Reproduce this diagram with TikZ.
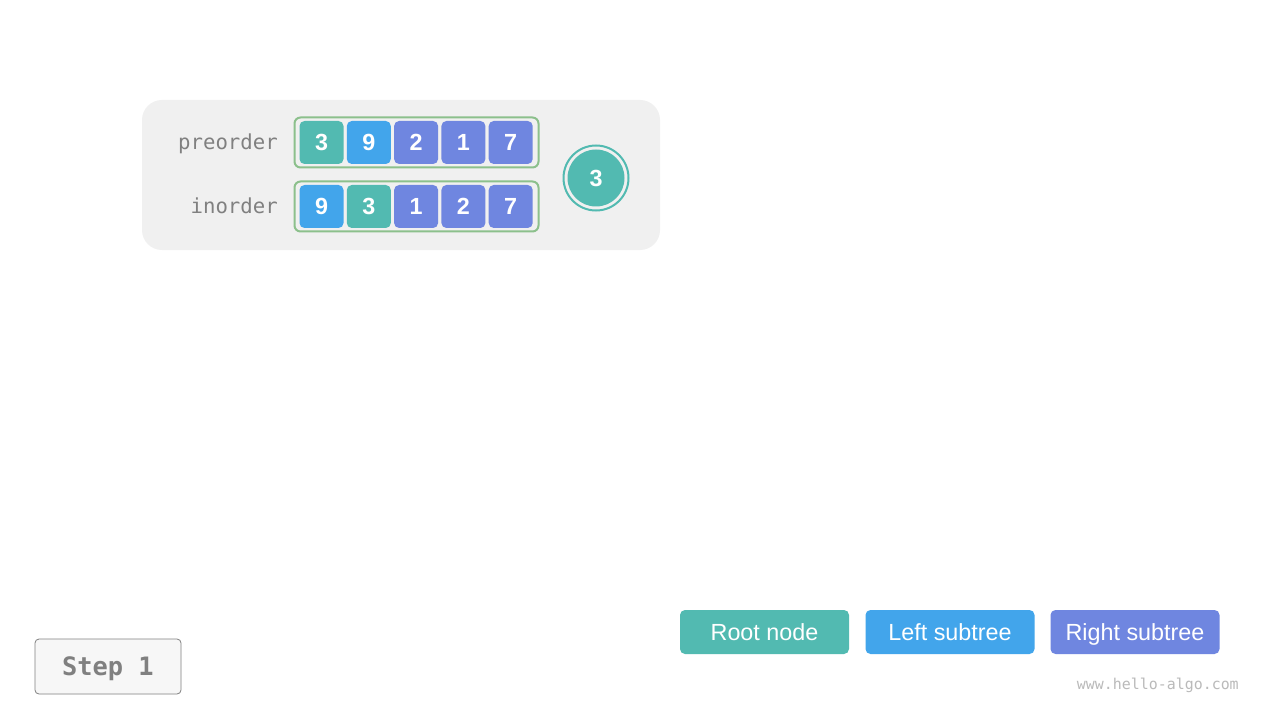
\documentclass[tikz,border=0pt]{standalone}
\usepackage{fontspec}
\setmainfont{Liberation Sans}
\newfontfamily\monof{DejaVu Sans Mono}
\definecolor{rootc}{HTML}{52BAB1}
\definecolor{leftc}{HTML}{42A5EB}
\definecolor{rightc}{HTML}{6F86E0}
\definecolor{panelc}{HTML}{F0F0F0}
\definecolor{outc}{HTML}{8CC08C}
\definecolor{labc}{HTML}{808080}
\tikzset{
  cell/.style={draw=none, fill=#1, rounded corners=5*0.75pt, minimum width=44*0.75pt, minimum height=43*0.75pt, inner sep=0pt, text=white, font=\fontsize{17.5}{17}\selectfont\bfseries},
  arrbox/.style={draw=outc, line width=1.5pt, rounded corners=6*0.75pt},
  lab/.style={anchor=east, text=labc, font=\monof\fontsize{15.5}{16}\selectfont, inner sep=0pt, text height=13.2pt, text depth=3pt},
  legend/.style={fill=#1, rounded corners=5*0.75pt, minimum width=169*0.75pt, minimum height=44*0.75pt, inner sep=0pt, text=white, font=\fontsize{17.5}{18}\selectfont, text height=15.5pt, text depth=3.5pt},
}
\begin{document}
\begin{tikzpicture}[x=0.75pt,y=-0.75pt]
\useasboundingbox (0,0) rectangle (1280,720);
\fill[white] (0,0) rectangle (1280,720);
% panel
\fill[panelc, rounded corners=20*0.75pt] (142,100) rectangle (660,250);
\node[lab] (pre) at (278,143) {preorder};
\node[lab] (ino) at (278,207) {inorder};
\draw[arrbox] (294.5,117.5) rectangle (538.5,167.5);
\draw[arrbox] (294.5,181.5) rectangle (538.5,231.5);
\foreach \i/\v/\c in {0/3/rootc,1/9/leftc,2/2/rightc,3/1/rightc,4/7/rightc}{
  \node[cell=\c] (p\i) at (321.5+47.3*\i,142.5) {\v};
}
\foreach \i/\v/\c in {0/9/leftc,1/3/rootc,2/1/rightc,3/2/rightc,4/7/rightc}{
  \node[cell=\c] (n\i) at (321.5+47.3*\i,206.5) {\v};
}
% root circle
\draw[rootc, line width=1.5pt] (596,178) circle (32.5*0.75pt);
\node[circle, fill=rootc, minimum size=57*0.75pt, inner sep=0pt, text=white, font=\fontsize{17.5}{17}\selectfont\bfseries] (root) at (596,178) {3};
% legend
\node[legend=rootc] (lr) at (764.5,632) {Root node};
\node[legend=leftc] (ll) at (950,632) {Left subtree};
\node[legend=rightc] (lrt) at (1135,632) {Right subtree};
% step
\node[draw=labc, fill=white!97!black, line width=0.6pt, rounded corners=4*0.75pt, minimum width=146*0.75pt, minimum height=55*0.75pt, inner sep=0pt, text=labc, font=\monof\fontsize{19}{19}\selectfont\bfseries, text height=17pt, text depth=3pt] (step) at (108,666.5) {Step 1};
\node[anchor=east, inner sep=0pt, text=black!27, font=\monof\fontsize{11.2}{12}\selectfont] (url) at (1239,685) {www.hello-algo.com};
\end{tikzpicture}
\end{document}
